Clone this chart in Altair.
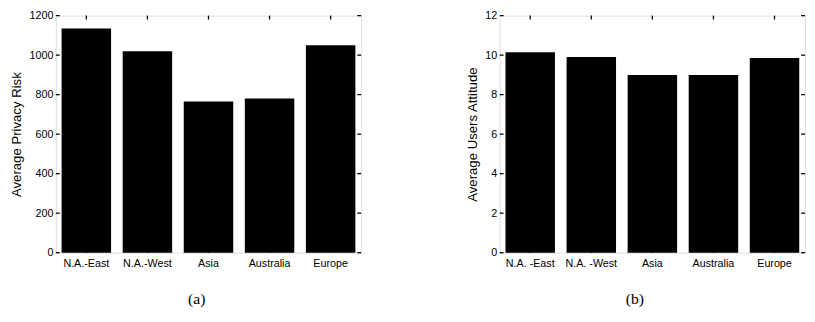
import altair as alt
import pandas as pd

# ---- data ----
regions_a = ["N.A.-East", "N.A.-West", "Asia", "Australia", "Europe"]
regions_b = ["N.A. -East", "N.A. -West", "Asia", "Australia", "Europe"]
privacy_risk = [1135, 1020, 765, 780, 1050]
users_attitude = [10.15, 9.9, 9.0, 9.0, 9.85]
risk_ticks = [0, 200, 400, 600, 800, 1000, 1200]
attitude_ticks = [0, 2, 4, 6, 8, 10, 12]

W, H = 313, 243
SANS = "Liberation Sans"
SERIF = "Liberation Serif"


def panel(labels, values, ticks, ymax, ytitle, caption, dx):
    df = pd.DataFrame({"region": labels, "value": values})
    tick_df = pd.DataFrame({"value": ticks})
    xs = alt.Scale(paddingInner=0.19, paddingOuter=0.095)
    ys = alt.Scale(domain=[0, ymax], nice=False, zero=True)
    x = alt.X(
        "region:N", sort=labels, scale=xs,
        axis=alt.Axis(title=None, labelAngle=0, ticks=False, tickSize=0,
                      domain=False, labelPadding=5, labelFontSize=11,
                      labelFont=SANS, labelColor="black"),
    )
    y = alt.Y(
        "value:Q", scale=ys,
        axis=alt.Axis(values=ticks, format="d", title=ytitle, ticks=False,
                      tickSize=0, domain=False, grid=False, labelPadding=3,
                      labelFontSize=11, labelFont=SANS, labelColor="black",
                      titleFont=SANS, titleFontSize=13.5, titleFontWeight="normal",
                      titleColor="black", titlePadding=6),
    )
    bars = alt.Chart(df).mark_bar(color="black").encode(x=x, y=y)
    xb = alt.Chart(df).mark_rule(color="black", strokeWidth=1.3).encode(
        x=alt.X("region:N", sort=labels), y=alt.value(H), y2=alt.value(H - 4))
    xt = alt.Chart(df).mark_rule(color="black", strokeWidth=1.3).encode(
        x=alt.X("region:N", sort=labels), y=alt.value(0), y2=alt.value(4))
    yl = alt.Chart(tick_df).mark_rule(color="black", strokeWidth=1.3).encode(
        y=alt.Y("value:Q"), x=alt.value(0), x2=alt.value(4))
    yr = alt.Chart(tick_df).mark_rule(color="black", strokeWidth=1.3).encode(
        y=alt.Y("value:Q"), x=alt.value(W - 4), x2=alt.value(W))
    return alt.layer(bars, xb, xt, yl, yr).properties(
        width=W, height=H,
        title=alt.TitleParams(caption, orient="bottom", anchor="middle",
                              font=SERIF, fontSize=16, fontWeight="normal",
                              color="black", offset=24, dx=dx),
    )


left = panel(regions_a, privacy_risk, risk_ticks, 1200,
             "Average Privacy Risk", "(a)", -12)
right = panel(regions_b, users_attitude, attitude_ticks, 12,
              "Average Users Attitude", "(b)", -18)

chart = alt.hconcat(left, right, spacing=104).properties(
    padding={"top": -3, "left": 1, "right": 0, "bottom": 0}
).configure_view(stroke="black", strokeWidth=1.5).configure(background="white")

chart.save("out.html", embed_options={"renderer": "svg", "actions": False})
